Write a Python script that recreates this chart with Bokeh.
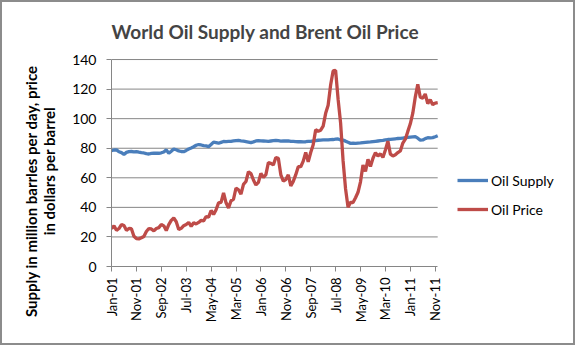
import numpy as np
from bokeh.plotting import figure
from bokeh.models import Range1d, FixedTicker, Legend, LegendItem, ColumnDataSource
from bokeh.embed import file_html
from bokeh.resources import INLINE

# ---- data (monthly, Jan-2001 .. Dec-2011) ----
months = ["Jan", "Feb", "Mar", "Apr", "May", "Jun", "Jul", "Aug", "Sep", "Oct", "Nov", "Dec"]
years = list(range(2001, 2012))
month_labels = [f"{m}-{str(y)[2:]}" for y in years for m in months]

oil_supply = [
    78.4, 78.8, 78.9, 77.6, 77.0, 75.8, 77.2, 77.7, 77.8, 77.6, 77.7, 77.3,
    77.0, 76.8, 76.3, 76.1, 76.5, 76.7, 76.6, 76.6, 76.9, 77.5, 78.9, 76.6,
    78.0, 79.5, 79.0, 78.2, 77.8, 77.7, 78.5, 79.5, 80.2, 81.0, 82.0, 82.5,
    82.2, 81.8, 81.6, 81.1, 82.5, 84.1, 83.8, 83.4, 84.0, 84.6, 84.5, 84.6,
    84.7, 85.0, 85.2, 85.3, 85.0, 84.8, 84.5, 84.2, 83.8, 84.3, 84.9, 85.2,
    85.0, 84.9, 84.8, 84.7, 84.9, 85.1, 85.3, 85.1, 84.8, 84.9, 85.0, 84.9,
    84.6, 84.6, 84.5, 84.4, 84.4, 84.3, 84.4, 84.6, 84.7, 84.9, 85.2, 85.4,
    85.5, 85.6, 85.7, 85.6, 85.8, 85.9, 86.1, 86.3, 85.6, 85.5, 84.8, 84.0,
    83.3, 83.4, 83.3, 83.5, 83.6, 83.8, 84.0, 84.2, 84.3, 84.5, 84.7, 84.9,
    85.1, 85.3, 85.6, 85.9, 86.0, 86.2, 86.4, 86.6, 86.7, 86.9, 87.1, 87.3,
    87.5, 87.7, 87.8, 86.8, 85.5, 85.6, 86.5, 87.1, 87.0, 87.2, 87.8, 88.5,
]

oil_price = [
    25.6, 27.5, 24.5, 25.7, 28.4, 27.7, 24.5, 25.7, 25.6, 20.5, 18.9, 18.7,
    19.4, 20.3, 23.7, 25.7, 25.4, 24.1, 25.7, 26.3, 28.4, 27.5, 24.3, 28.3,
    31.2, 32.8, 30.3, 25.0, 25.8, 27.6, 28.4, 29.8, 27.1, 29.6, 28.8, 29.8,
    31.2, 30.9, 33.8, 33.4, 37.9, 35.2, 38.4, 43.0, 43.4, 49.8, 43.1, 39.6,
    44.5, 45.5, 53.1, 51.9, 49.0, 55.6, 57.5, 64.1, 62.9, 58.5, 55.2, 56.9,
    63.0, 60.2, 62.1, 70.3, 69.8, 68.7, 73.7, 73.2, 62.0, 57.8, 58.8, 62.0,
    54.5, 57.6, 62.1, 67.5, 67.5, 71.3, 77.2, 70.8, 77.1, 82.3, 92.5, 91.5,
    92.2, 95.0, 103.6, 109.1, 122.8, 132.3, 132.7, 113.2, 97.2, 71.6, 52.5, 40.0,
    43.4, 43.3, 46.5, 50.2, 57.3, 68.6, 64.4, 72.5, 67.7, 73.2, 77.0, 74.7,
    76.2, 73.8, 78.8, 84.8, 76.0, 74.8, 75.6, 77.1, 78.2, 83.5, 86.1, 91.4,
    96.5, 103.7, 114.6, 123.3, 114.5, 113.9, 116.7, 110.2, 112.8, 109.5, 110.5, 110.8,
]

tick_positions = list(range(0, 131, 10))
y_ticks = [0, 20, 40, 60, 80, 100, 120, 140]
y_max = 140

title_text = "World Oil Supply and Brent Oil Price"
y_label_lines = ["Supply in million barrles per day, price", "in dollars per barrel"]
series_names = ["Oil Supply", "Oil Price"]

FONT = "Lato"
GRID = "#868686"
NB = "\u00a0"

n = len(month_labels)
x_last = n - 1
idx = list(range(n))
src = ColumnDataSource(dict(x=idx, supply=oil_supply, price=oil_price))

# frame spans to the right edge so that the legend can live inside it;
# the data occupy the left part (page x 111..433)
x_end = x_last * (571 - 111) / (433 - 111)
y_end = y_max * (262 - 57) / (262 - 59)

p = figure(width=575, height=345, output_backend="svg", toolbar_location=None,
           x_range=Range1d(0, x_end), y_range=Range1d(0, y_end),
           min_border_left=109, min_border_right=0, min_border_top=55,
           min_border_bottom=81)
p.styles = {"border": "2px solid #8c8c8c", "box-sizing": "border-box"}

p.title.text = title_text
p.title.text_font = FONT
p.title.text_font_size = "19px"
p.title.text_font_style = "bold"
p.title.align = "left"
p.title.offset = 0
p.title.standoff = 30

p.outline_line_color = None
p.background_fill_color = "white"
p.border_fill_color = "white"

# horizontal gridlines limited to the data extent
grid_y = [v for v in y_ticks if v > 0]
p.segment(x0=[0] * len(grid_y), x1=[x_last] * len(grid_y), y0=grid_y, y1=grid_y,
          line_color=GRID, line_width=1)

r1 = p.line("x", "supply", source=src, line_color="#4A7EBB", line_width=3.3)
r2 = p.line("x", "price", source=src, line_color="#BE4B48", line_width=3.3)

# axes
xa = p.xaxis[0]
xa.ticker = FixedTicker(ticks=tick_positions)
xa.bounds = (0, x_last)
xa.major_label_overrides = {i: month_labels[i] for i in tick_positions}
xa.major_label_orientation = np.pi / 2
xa.major_label_text_font = FONT
xa.major_label_text_font_size = "13px"
xa.major_label_text_color = "black"
xa.major_tick_out = 5
xa.major_tick_in = 0
xa.minor_tick_line_color = None
xa.axis_line_color = GRID
xa.major_tick_line_color = GRID
xa.major_label_standoff = 6

ya = p.yaxis[0]
ya.ticker = FixedTicker(ticks=y_ticks)
ya.bounds = (0, y_max)
ya.major_label_text_font = FONT
ya.major_label_text_font_size = "14px"
ya.major_label_text_color = "black"
ya.major_tick_out = 5
ya.major_tick_in = 0
ya.minor_tick_line_color = None
ya.axis_line_color = GRID
ya.major_tick_line_color = GRID
ya.major_label_standoff = 10
# trailing non-breaking spaces shift the centred lines toward the bottom, as in the reference
ya.axis_label = y_label_lines[0] + NB * 16 + "\n" + y_label_lines[1] + NB * 5
ya.axis_label_text_font = FONT
ya.axis_label_text_font_size = "15px"
ya.axis_label_text_font_style = "bold"
ya.axis_label_text_color = "black"
ya.axis_label_text_line_height = 1.0
ya.axis_label_standoff = 11

p.xgrid.grid_line_color = None
p.ygrid.grid_line_color = None

legend = Legend(items=[LegendItem(label=series_names[0], renderers=[r1]),
                       LegendItem(label=series_names[1], renderers=[r2])],
                location=(346, 47), orientation="vertical")
legend.label_text_font = FONT
legend.label_text_font_size = "14px"
legend.label_text_color = "black"
legend.glyph_width = 31
legend.glyph_height = 20
legend.label_height = 20
legend.label_standoff = 3
legend.spacing = 9
legend.padding = 0
legend.margin = 0
legend.border_line_color = None
legend.background_fill_alpha = 0
p.add_layout(legend, "center")

open("out.html", "w").write(file_html(p, INLINE))
